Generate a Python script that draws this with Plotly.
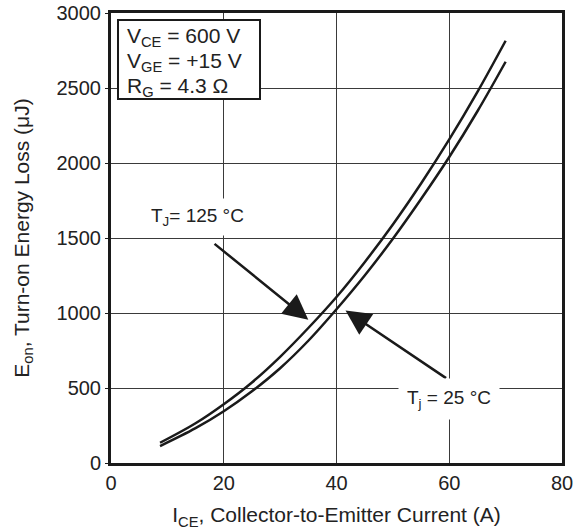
import plotly.graph_objects as go

# Data
i_125 = [8.7, 15, 20, 25, 30, 35, 40, 45, 50, 55, 60, 65, 70]
e_125 = [135, 265, 392, 537, 708, 900, 1107, 1339, 1590, 1863, 2157, 2474, 2815]
i_25 = [8.7, 15, 20, 25, 30, 35, 40, 45, 50, 55, 60, 65, 70]
e_25 = [113, 232, 345, 478, 632, 815, 1025, 1250, 1495, 1760, 2040, 2345, 2675]

x_ticks = [0, 20, 40, 60, 80]
y_ticks = [0, 500, 1000, 1500, 2000, 2500, 3000]
cond_lines = ["V<sub>CE</sub> = 600 V", "V<sub>GE</sub> = +15 V", "R<sub>G</sub> = 4.3 Ω"]

FONT = "Liberation Sans, Arial, sans-serif"

fig = go.Figure()
for xs, ys in ((i_125, e_125), (i_25, e_25)):
    fig.add_trace(go.Scatter(x=xs, y=ys, mode="lines",
                             line=dict(color="#1a1a1a", width=2.5, shape="spline", smoothing=1.0),
                             showlegend=False))

fig.update_layout(
    width=574, height=531,
    margin=dict(l=111, r=12, t=13, b=68),
    paper_bgcolor="white", plot_bgcolor="white",
    font=dict(family=FONT, size=18, color="#222"),
    xaxis=dict(range=[0, 80], tickvals=x_ticks, showgrid=True, gridcolor="#3a3a3a", gridwidth=1,
               showline=True, linecolor="#1a1a1a", linewidth=3, mirror=True, zeroline=False,
               ticks="", tickfont=dict(size=20), automargin=False,
               title=dict(text="I<sub>CE</sub>, Collector-to-Emitter Current (A)", font=dict(size=21), standoff=15)),
    yaxis=dict(range=[0, 3000], tickvals=y_ticks, showgrid=True, gridcolor="#3a3a3a", gridwidth=1,
               showline=True, linecolor="#1a1a1a", linewidth=3, mirror=True, zeroline=False,
               ticks="outside", ticklen=3, tickcolor="#1a1a1a", tickfont=dict(size=20), automargin=False,
               title=dict(text="E<sub>on</sub>, Turn-on Energy Loss (μJ)", font=dict(size=21), standoff=22)),
)

# Conditions box
fig.add_shape(type="rect", xref="paper", yref="paper",
              x0=(118-111)/451, x1=(260-111)/451, y0=(463-99)/450, y1=(463-20)/450,
              line=dict(color="#1a1a1a", width=2), fillcolor="white", layer="above")
for k, line_txt in enumerate(cond_lines):
    yc = 37 + 25 * k
    fig.add_annotation(xref="paper", yref="paper", x=(125-111)/451, y=(463-yc)/450,
                       xanchor="left", yanchor="middle", align="left", showarrow=False,
                       text=line_txt, font=dict(size=21, color="#222"))

# Arrows
fig.add_annotation(x=35.0, y=955, ax=18.1, ay=1469, axref="x", ayref="y", xref="x", yref="y",
                   text="", showarrow=True, arrowhead=2, arrowsize=2.0, arrowwidth=2.5, arrowcolor="#1a1a1a")
fig.add_annotation(x=41.6, y=1017, ax=59.7, ay=559, axref="x", ayref="y", xref="x", yref="y",
                   text="", showarrow=True, arrowhead=2, arrowsize=2.0, arrowwidth=2.5, arrowcolor="#1a1a1a")

fig.add_annotation(x=15.3, y=1640, xref="x", yref="y", text="T<sub>J</sub>= 125 °C", showarrow=False,
                   bgcolor="white", borderpad=6, font=dict(size=19, color="#222"))
fig.add_annotation(x=59.9, y=430, xref="x", yref="y", text="T<sub>j</sub> = 25 °C", showarrow=False,
                   bgcolor="white", borderpad=8, font=dict(size=19, color="#222"))

fig.write_html("out.html")
